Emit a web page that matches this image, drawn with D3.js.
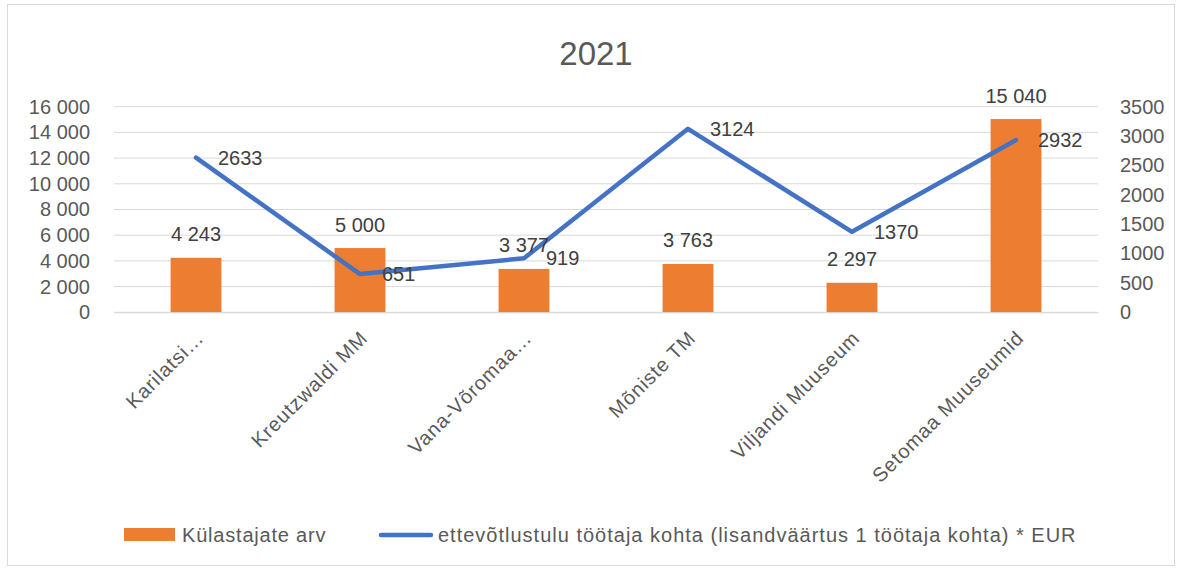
<!DOCTYPE html>
<html><head><meta charset="utf-8">
<script src="https://cdn.jsdelivr.net/npm/d3@7/dist/d3.min.js"></script>
<style>body{margin:0;background:#fff}svg{display:block}text{font-family:"Liberation Sans",Arial,sans-serif}</style>
</head><body><svg id="c" width="1182" height="572"></svg>
<script>
const title = "2021";
const categories = ["Karilatsi…","Kreutzwaldi MM","Vana-Võromaa…","Mõniste TM","Viljandi Muuseum","Setomaa Muuseumid"];
const visitors = [4243,5000,3377,3763,2297,15040];
const income = [2633,651,919,3124,1370,2932];
const leftTicks = [0,2000,4000,6000,8000,10000,12000,14000,16000];
const rightTicks = [0,500,1000,1500,2000,2500,3000,3500];
const seriesNames = ["Külastajate arv","ettevõtlustulu töötaja kohta (lisandväärtus 1 töötaja kohta) * EUR"];

const svg = d3.select("#c");
const L=114,R=1098,T=106.7,B=312.3;
const FS=20;
svg.append("rect").attr("x",7.5).attr("y",4.5).attr("width",1167).attr("height",561).attr("fill","#fff").attr("stroke","#d9d9d9");

const x = d3.scaleBand().domain(categories).range([L,R]).paddingInner(0.69).paddingOuter(0.345);
const yL = d3.scaleLinear().domain([0,16000]).range([B,T]);
const yR = d3.scaleLinear().domain([0,3500]).range([B,T]);
const fmt = v => d3.format(",")(v).replace(/,/g," ");

svg.append("text").attr("x",596).attr("y",65).attr("text-anchor","middle").attr("font-size",33).attr("fill","#595959").text(title);

// gridlines
svg.append("g").selectAll("line").data(leftTicks).join("line")
 .attr("x1",L).attr("x2",R).attr("y1",d=>yL(d)).attr("y2",d=>yL(d)).attr("stroke","#d9d9d9").attr("stroke-width",1);

// axes
const gl = svg.append("g").attr("transform",`translate(${L},0)`).call(d3.axisLeft(yL).tickValues(leftTicks).tickFormat(fmt).tickSize(0).tickPadding(24));
gl.select(".domain").remove();
gl.selectAll("text").attr("font-size",FS).attr("fill","#595959").style("font-family","Liberation Sans, Arial");
const gr = svg.append("g").attr("transform",`translate(${R},0)`).call(d3.axisRight(yR).tickValues(rightTicks).tickFormat(d=>d).tickSize(0).tickPadding(22));
gr.select(".domain").remove();
gr.selectAll("text").attr("font-size",FS).attr("fill","#595959").style("font-family","Liberation Sans, Arial");

// bars
svg.append("g").selectAll("rect").data(visitors).join("rect")
 .attr("x",(d,i)=>x(categories[i])).attr("width",x.bandwidth())
 .attr("y",d=>yL(d)).attr("height",d=>B-yL(d)).attr("fill","#ED7D31");

// x axis
const gx = svg.append("g").attr("transform",`translate(0,${B})`).call(d3.axisBottom(x).tickSize(0).tickPadding(0));
gx.select(".domain").attr("stroke","#d9d9d9");
gx.selectAll("text").attr("font-size",FS).attr("letter-spacing",0.9).attr("fill","#595959").attr("text-anchor","end")
 .attr("transform","translate(4,22) rotate(-45)").attr("dy","0.35em").style("font-family","Liberation Sans, Arial");

// line
const cx = c => x(c)+x.bandwidth()/2;
svg.append("path").datum(income).attr("fill","none").attr("stroke","#4472C4").attr("stroke-width",4.5).attr("stroke-linecap","round").attr("stroke-linejoin","round")
 .attr("d",d3.line().x((d,i)=>cx(categories[i])).y(d=>yR(d)));

// labels
svg.append("g").selectAll("text").data(visitors).join("text")
 .attr("x",(d,i)=>cx(categories[i])).attr("y",d=>yL(d)-16.5).attr("text-anchor","middle")
 .attr("font-size",FS).attr("fill","#404040").text(fmt);
svg.append("g").selectAll("text").data(income).join("text")
 .attr("x",(d,i)=>cx(categories[i])+22).attr("y",d=>yR(d)).attr("dy","0.35em")
 .attr("font-size",FS).attr("fill","#404040").text(d=>d);

// legend
const lg = svg.append("g");
lg.append("rect").attr("x",124).attr("y",528).attr("width",51).attr("height",13).attr("fill","#ED7D31");
lg.append("text").attr("x",182).attr("y",535).attr("dy","0.35em").attr("font-size",FS).attr("letter-spacing",0.8).attr("fill","#595959").text(seriesNames[0]);
lg.append("line").attr("x1",381).attr("x2",431).attr("y1",535).attr("y2",535).attr("stroke","#4472C4").attr("stroke-width",4.5).attr("stroke-linecap","round");
lg.append("text").attr("x",438).attr("y",535).attr("dy","0.35em").attr("font-size",FS).attr("letter-spacing",1).attr("fill","#595959").text(seriesNames[1]);
</script></body></html>
